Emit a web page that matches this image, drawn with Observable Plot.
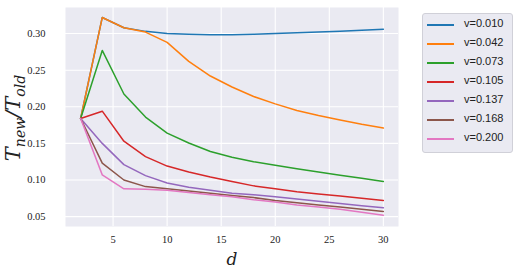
<!DOCTYPE html>
<html><head><meta charset="utf-8">
<script src="https://cdn.jsdelivr.net/npm/d3@7"></script>
<script src="https://cdn.jsdelivr.net/npm/@observablehq/plot@0.6"></script>
<style>
body{margin:0;background:#fff;}
#wrap{position:relative;width:521px;height:274px;}
#chart{position:absolute;left:0;top:0;}
#legend{position:absolute;left:422px;top:13px;width:91px;height:140px;box-sizing:border-box;background:#eaeaf2;border:1px solid #d0d0d8;border-radius:3px;}
.row{position:absolute;left:0;height:14px;font-family:"Liberation Sans",Arial,sans-serif;font-size:11px;color:#222;}
.row .ln{position:absolute;left:4px;top:6px;width:27px;height:1.5px;}
.row .tx{position:absolute;left:41px;top:-1px;white-space:nowrap;}
</style>
</head><body>
<div id="wrap">
<div id="chart"></div>
<div id="legend"></div>
</div>
<script>
const dVals = [2,4,6,8,10,12,14,16,18,20,22,24,26,28,30];
const seriesNames = ["v=0.010","v=0.042","v=0.073","v=0.105","v=0.137","v=0.168","v=0.200"];
const colors = ["#1f77b4","#ff7f0e","#2ca02c","#d62728","#9467bd","#8c564b","#e377c2"];
const v010 = [0.184,0.322,0.308,0.303,0.300,0.299,0.2985,0.2985,0.299,0.300,0.301,0.302,0.303,0.3045,0.306];
const v042 = [0.184,0.322,0.308,0.302,0.288,0.262,0.242,0.227,0.214,0.204,0.195,0.188,0.182,0.176,0.171];
const v073 = [0.184,0.277,0.2175,0.186,0.164,0.1505,0.139,0.131,0.125,0.120,0.1155,0.111,0.1065,0.1025,0.098];
const v105 = [0.184,0.194,0.153,0.132,0.119,0.111,0.104,0.098,0.092,0.088,0.084,0.081,0.078,0.075,0.072];
const v137 = [0.184,0.150,0.121,0.106,0.096,0.090,0.086,0.082,0.080,0.077,0.074,0.071,0.068,0.065,0.062];
const v168 = [0.184,0.123,0.100,0.091,0.088,0.085,0.082,0.079,0.076,0.072,0.069,0.066,0.063,0.060,0.057];
const v200 = [0.184,0.107,0.088,0.0875,0.086,0.083,0.080,0.077,0.073,0.070,0.066,0.063,0.060,0.056,0.052];
const xTicks = [5,10,15,20,25,30];
const yTicks = [0.05,0.10,0.15,0.20,0.25,0.30];

const allSeries = [v010,v042,v073,v105,v137,v168,v200];
const rows = [];
allSeries.forEach((arr,i)=>arr.forEach((y,j)=>rows.push({d:dVals[j],y,s:seriesNames[i]})));

const tickFont = {fontFamily:"'Liberation Serif','DejaVu Serif',serif", fontSize:10.5, fill:"#222"};
const chart = Plot.plot({
  width:521, height:274,
  marginLeft:65, marginRight:123, marginTop:7, marginBottom:48,
  x:{domain:[0.6,31.4]},
  y:{domain:[0.0365,0.3356]},
  color:{domain:seriesNames, range:colors},
  style:{background:"transparent"},
  marks:[
    Plot.frame({fill:"#eaeaf2", stroke:null}),
    Plot.gridX(xTicks,{stroke:"#fff", strokeOpacity:1, strokeWidth:1.1}),
    Plot.gridY(yTicks,{stroke:"#fff", strokeOpacity:1, strokeWidth:1.1}),
    Plot.axisX(xTicks,{tickSize:0, tickPadding:9, label:null, ...tickFont}),
    Plot.axisY(yTicks,{tickSize:0, tickPadding:20, label:null, tickFormat:d3.format(".2f"), ...tickFont}),
    Plot.line(rows,{x:"d", y:"y", z:"s", stroke:"s", strokeWidth:1.5})
  ]
});
document.getElementById("chart").appendChild(chart);

// axis labels (math style)
const svg = d3.select(chart);
const yl = svg.append("text")
  .attr("transform","translate(20,118) rotate(-90)")
  .attr("text-anchor","middle")
  .attr("font-family","'DejaVu Serif',serif").attr("font-style","italic")
  .attr("font-size",21).attr("fill","#222");
yl.append("tspan").text("T");
yl.append("tspan").attr("font-size",14).attr("dy",5).text("new");
yl.append("tspan").attr("dy",-5).text("/T");
yl.append("tspan").attr("font-size",14).attr("dy",5).text("old");
svg.append("text")
  .attr("x",232).attr("y",265)
  .attr("text-anchor","middle")
  .attr("font-family","'DejaVu Serif',serif").attr("font-style","italic")
  .attr("font-size",17).attr("fill","#222").text("d");

const leg = document.getElementById("legend");
seriesNames.forEach((n,i)=>{
  const r = document.createElement("div");
  r.className="row"; r.style.top=(4+i*19)+"px"; r.style.width="88px";
  r.innerHTML=`<div class="ln" style="background:${colors[i]}"></div><div class="tx">${n}</div>`;
  leg.appendChild(r);
});
</script>
</body></html>
